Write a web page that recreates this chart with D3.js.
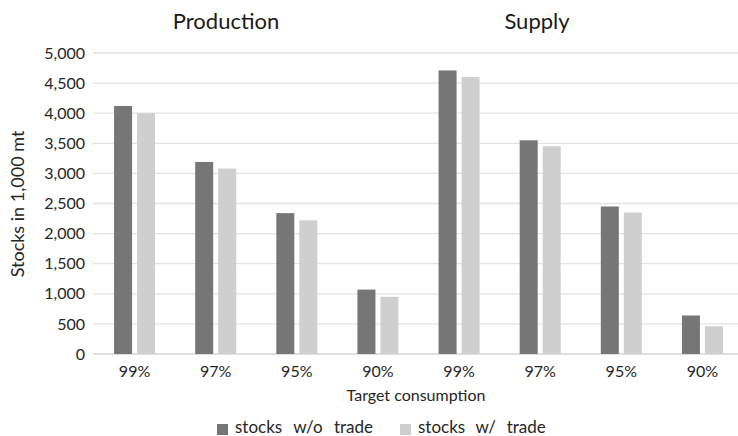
<!DOCTYPE html>
<html><head><meta charset="utf-8">
<script src="https://cdn.jsdelivr.net/npm/d3@7"></script>
<style>body{margin:0;background:#fff}svg{display:block;font-family:Lato,"Open Sans",sans-serif}</style>
</head><body><svg id="c" width="738" height="436"></svg>
<script>
const categories = ["99%","97%","95%","90%","99%","97%","95%","90%"];
const panels = ["Production","Supply"];
const seriesNames = ["stocks w/o trade","stocks w/ trade"];
const withoutTrade = [4120,3190,2340,1070,4710,3550,2450,640];
const withTrade = [4000,3080,2220,950,4600,3450,2350,460];
const yTicks = [0,500,1000,1500,2000,2500,3000,3500,4000,4500,5000];
const colors = ["#767676","#cfcfcf"];

const svg = d3.select("#c");
const x = d3.scaleBand().domain(d3.range(categories.length)).range([94,743]);
const y = d3.scaleLinear().domain([0,5000]).range([354,53]);
const fmt = d3.format(",");

svg.append("g").selectAll("line").data(yTicks).join("line")
  .attr("x1",93).attr("x2",738).attr("y1",d=>y(d)).attr("y2",d=>y(d))
  .attr("stroke",d=>d===0?"#d6d6d6":"#e3e3e3").attr("stroke-width",1.3);

svg.append("g").selectAll("text").data(yTicks).join("text")
  .attr("x",85).attr("y",d=>y(d)).attr("dy","0.35em").attr("text-anchor","end")
  .attr("font-size",16).attr("fill","#262626").text(d=>fmt(d));

const bw = 18, gap = 5;
[withoutTrade, withTrade].forEach((vals,si)=>{
  svg.append("g").selectAll("rect").data(vals).join("rect")
    .attr("x",(d,i)=>x(i)+x.bandwidth()/2 - bw - gap/2 + si*(bw+gap))
    .attr("width",bw)
    .attr("y",d=>y(d)).attr("height",d=>y(0)-y(d))
    .attr("fill",colors[si]);
});

svg.append("g").selectAll("text").data(categories).join("text")
  .attr("x",(d,i)=>x(i)+x.bandwidth()/2).attr("y",377).attr("text-anchor","middle")
  .attr("font-size",16).attr("fill","#262626").text(d=>d);

const titleX = [226,537];
svg.append("g").selectAll("text").data(panels).join("text")
  .attr("x",(d,i)=>titleX[i]).attr("y",29).attr("text-anchor","middle")
  .attr("font-size",22).attr("fill","#1a1a1a").text(d=>d);

svg.append("text").attr("x",416).attr("y",401).attr("text-anchor","middle")
  .attr("font-size",16).attr("fill","#262626").text("Target consumption");

svg.append("text").attr("transform","translate(24,204) rotate(-90)").attr("text-anchor","middle")
  .attr("font-size",18).attr("fill","#262626").text("Stocks in 1,000 mt");

const legX = [217,400];
const lg = svg.append("g").selectAll("g").data(seriesNames).join("g")
  .attr("transform",(d,i)=>`translate(${legX[i]},0)`);
lg.append("rect").attr("x",0).attr("y",424).attr("width",11).attr("height",11).attr("fill",(d,i)=>colors[i]);
lg.append("text").attr("x",18).attr("y",433).attr("font-size",17).attr("fill","#262626")
  .attr("word-spacing",(d,i)=>i===0?7:6.3).text(d=>d);
</script></body></html>
